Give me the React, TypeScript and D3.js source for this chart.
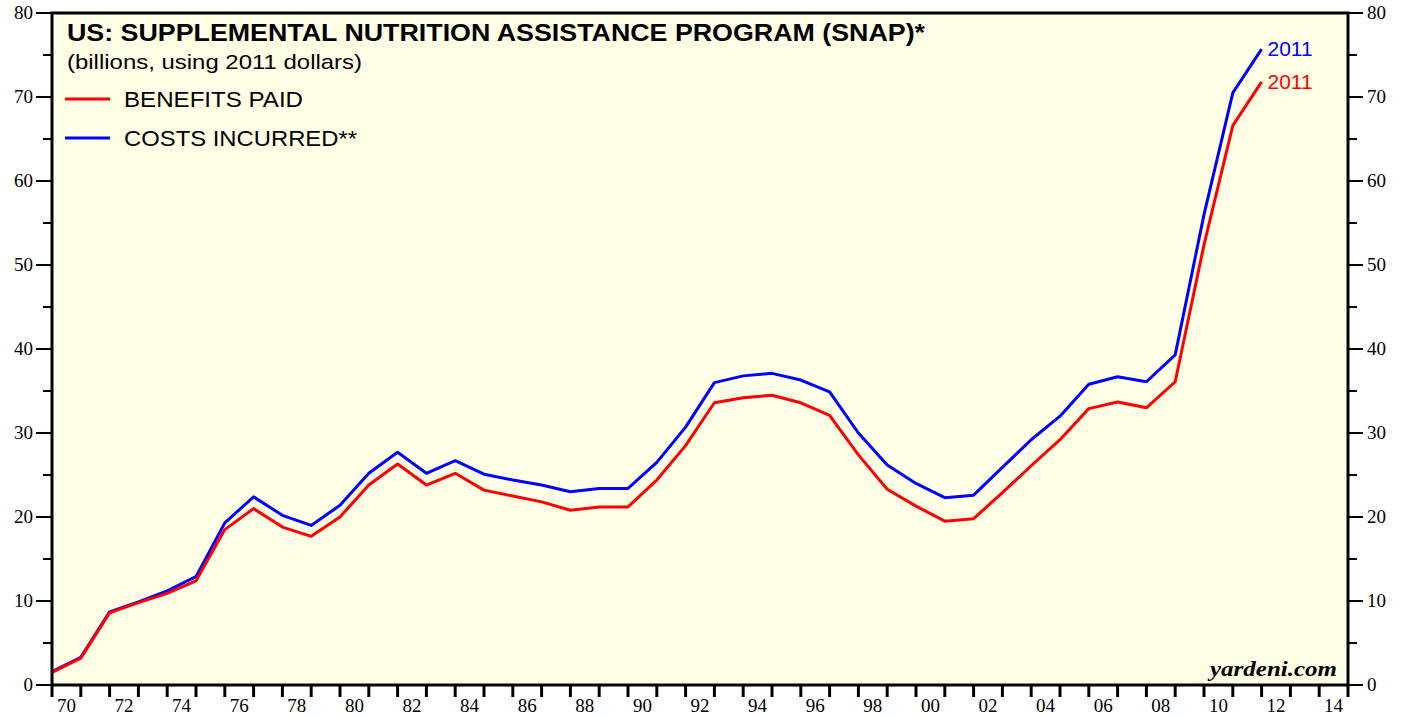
import React from 'react'
import * as d3 from 'd3'

// annual values, 1970 .. 2012 (plotted at year start)
const years = d3.range(1970, 2013)
const benefitsPaid = [
  1.5, 3.2, 8.6, 9.8, 10.9, 12.4, 18.5, 21.0, 18.8, 17.7,
  20.0, 23.8, 26.3, 23.8, 25.2, 23.2, 22.5, 21.8, 20.8, 21.2,
  21.2, 24.4, 28.5, 33.6, 34.2, 34.5, 33.6, 32.1, 27.4, 23.3,
  21.3, 19.5, 19.8, 22.9, 26.1, 29.2, 32.9, 33.7, 33.0, 36.1,
  52.4, 66.6, 71.8,
]
const costsIncurred = [
  1.6, 3.3, 8.7, 9.9, 11.2, 12.9, 19.3, 22.4, 20.2, 19.0,
  21.4, 25.2, 27.7, 25.2, 26.7, 25.1, 24.4, 23.8, 23.0, 23.4,
  23.4, 26.5, 30.7, 36.0, 36.8, 37.1, 36.3, 34.9, 30.0, 26.2,
  24.0, 22.3, 22.6, 25.9, 29.2, 32.0, 35.8, 36.7, 36.1, 39.3,
  56.0, 70.5, 75.7,
]
const yTicks = [0, 10, 20, 30, 40, 50, 60, 70, 80]
const xLabelYears = d3.range(1970, 2015, 2)

const W = 1407
const H = 717
const left = 52
const right = 1348
const top = 13
const bottom = 685

const App = () => {
  const x = d3.scaleLinear().domain([1970, 2015]).range([left, right])
  const y = d3.scaleLinear().domain([0, 80]).range([bottom, top])

  const line = d3.line<number>()
    .x((d, i) => x(years[i]))
    .y(d => y(d))
    .curve(d3.curveLinear)

  const minor = d3.range(5, 80, 10)
  const tickYears = d3.range(1970, 2016)
  const serif = '"Liberation Serif", "Times New Roman", serif'
  const sans = '"Liberation Sans", Arial, sans-serif'
  const last = years.length - 1

  return (
    <svg width={W} height={H} style={{ position: 'absolute', left: 0, top: 0, background: '#fff' }}>
      <rect x={left} y={top} width={right - left} height={bottom - top} fill="#ffffe5" />

      {/* y ticks both sides */}
      {yTicks.map(t => (
        <g key={'y' + t}>
          <line x1={36} x2={left} y1={y(t)} y2={y(t)} stroke="#000" strokeWidth={2} />
          <line x1={right} x2={1363} y1={y(t)} y2={y(t)} stroke="#000" strokeWidth={2} />
          <text x={33} y={y(t) + 6} textAnchor="end" fontFamily={serif} fontSize={19} fill="#000">{t}</text>
          <text x={1367} y={y(t) + 6} textAnchor="start" fontFamily={serif} fontSize={19} fill="#000">{t}</text>
        </g>
      ))}
      {minor.map(t => (
        <g key={'m' + t}>
          <line x1={43} x2={left} y1={y(t)} y2={y(t)} stroke="#000" strokeWidth={2} />
          <line x1={right} x2={1357} y1={y(t)} y2={y(t)} stroke="#000" strokeWidth={2} />
        </g>
      ))}

      {/* x ticks */}
      {tickYears.map(yr => (
        <line key={'t' + yr} x1={x(yr)} x2={x(yr)} y1={bottom} y2={bottom + 12} stroke="#000" strokeWidth={3} />
      ))}
      {xLabelYears.map(yr => (
        <text key={'l' + yr} x={x(yr + 0.5)} y={712} textAnchor="middle" fontFamily={serif} fontSize={19} fill="#000">
          {String(yr % 100).padStart(2, '0')}
        </text>
      ))}

      <path d={line(costsIncurred) || ''} fill="none" stroke="#0000ff" strokeWidth={3} strokeLinejoin="round" />
      <path d={line(benefitsPaid) || ''} fill="none" stroke="#ff0000" strokeWidth={3} strokeLinejoin="round" />

      <text x={x(years[last]) + 6} y={y(costsIncurred[last]) + 7} fontFamily={sans} fontSize={20} textLength={45} lengthAdjust="spacingAndGlyphs" fill="#0000ff">2011</text>
      <text x={x(years[last]) + 6} y={y(benefitsPaid[last]) + 7} fontFamily={sans} fontSize={20} textLength={45} lengthAdjust="spacingAndGlyphs" fill="#ff0000">2011</text>

      {/* title + legend */}
      <text x={67} y={41} fontFamily={sans} fontSize={24} fontWeight="bold" textLength={858} lengthAdjust="spacingAndGlyphs" fill="#000">
        US: SUPPLEMENTAL NUTRITION ASSISTANCE PROGRAM (SNAP)*
      </text>
      <text x={67} y={69} fontFamily={sans} fontSize={21} textLength={295} lengthAdjust="spacingAndGlyphs" fill="#000">(billions, using 2011 dollars)</text>
      <line x1={65} x2={110} y1={99} y2={99} stroke="#ff0000" strokeWidth={3} />
      <text x={124} y={107} fontFamily={sans} fontSize={22} textLength={179} lengthAdjust="spacingAndGlyphs" fill="#000">BENEFITS PAID</text>
      <line x1={65} x2={110} y1={138} y2={138} stroke="#0000ff" strokeWidth={3} />
      <text x={124} y={146} fontFamily={sans} fontSize={22} textLength={233} lengthAdjust="spacingAndGlyphs" fill="#000">COSTS INCURRED**</text>

      <text x={1337} y={676} textAnchor="end" fontFamily={serif} fontSize={22} fontWeight="bold" fontStyle="italic" textLength={127} lengthAdjust="spacingAndGlyphs" fill="#000">yardeni.com</text>

      <rect x={left} y={top} width={right - left} height={bottom - top} fill="none" stroke="#000" strokeWidth={3} />
    </svg>
  )
}

export default App
